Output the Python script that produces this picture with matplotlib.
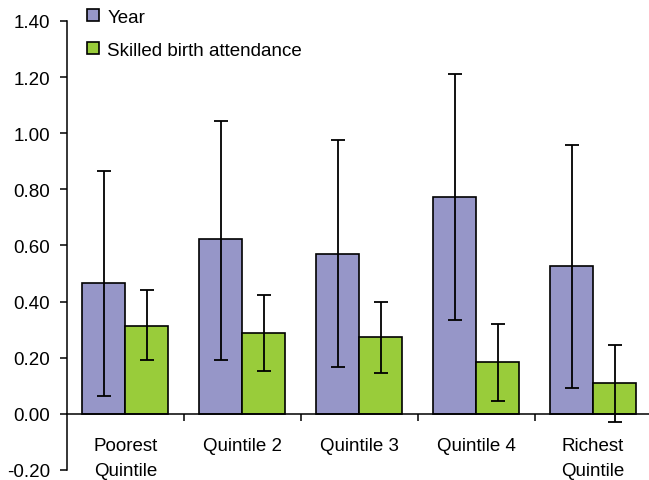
import numpy as np
import matplotlib
matplotlib.use("Agg")
import matplotlib.pyplot as plt

plt.rcParams['font.family'] = ['Liberation Sans', 'DejaVu Sans']

categories = ['Poorest\nQuintile', 'Quintile 2', 'Quintile 3', 'Quintile 4', 'Richest\nQuintile']
year_vals = [0.467, 0.623, 0.570, 0.773, 0.527]
year_lo = [0.064, 0.192, 0.167, 0.335, 0.093]
year_hi = [0.866, 1.044, 0.976, 1.211, 0.958]
sba_vals = [0.313, 0.289, 0.274, 0.185, 0.110]
sba_lo = [0.192, 0.153, 0.146, 0.046, -0.028]
sba_hi = [0.442, 0.424, 0.399, 0.321, 0.246]

year_color = '#9696C8'
sba_color = '#99CC3A'

fig = plt.figure(figsize=(6.49, 4.81), dpi=100)
ax = fig.add_axes([0.103, 0.021, 0.901, 0.9335])

x = np.arange(len(categories))
w = 0.367
yerr_year = [np.array(year_vals) - np.array(year_lo), np.array(year_hi) - np.array(year_vals)]
yerr_sba = [np.array(sba_vals) - np.array(sba_lo), np.array(sba_hi) - np.array(sba_vals)]

ax.bar(x - w / 2, year_vals, w, color=year_color, edgecolor='black', linewidth=1.2,
       label='Year', zorder=2)
ax.bar(x + w / 2, sba_vals, w, color=sba_color, edgecolor='black', linewidth=1.2,
       label='Skilled birth attendance', zorder=2)
ax.errorbar(x - w / 2, year_vals, yerr=yerr_year, fmt='none', ecolor='black',
            elinewidth=1.3, capsize=4.7, capthick=1.3, zorder=3)
ax.errorbar(x + w / 2, sba_vals, yerr=yerr_sba, fmt='none', ecolor='black',
            elinewidth=1.3, capsize=4.7, capthick=1.3, zorder=3)

ax.set_xlim(-0.5, 4.5)
ax.set_ylim(-0.2, 1.4)
ax.set_yticks(np.arange(-0.2, 1.41, 0.2))
ax.set_yticklabels([f'{v:.2f}' for v in np.arange(-0.2, 1.41, 0.2)], fontsize=13.5)

# x axis line at zero, boundary ticks, labels at category centres
ax.spines['bottom'].set_position(('data', 0))
ax.spines['top'].set_visible(False)
ax.spines['right'].set_visible(False)
ax.spines['left'].set_linewidth(1.1)
ax.spines['bottom'].set_linewidth(1.1)
ax.set_xticks(np.arange(0.5, 4.5, 1.0))
ax.set_xticklabels([])
ax.set_xticks(x, minor=True)
ax.set_xticklabels(categories, minor=True, fontsize=13.5, linespacing=1.55)
ax.tick_params(axis='x', which='major', direction='out', length=5, width=1.1)
ax.tick_params(axis='x', which='minor', length=0, pad=17)
ax.tick_params(axis='y', direction='out', length=5, width=1.1, pad=7)

ax.legend(loc='upper left', bbox_to_anchor=(0.005, 1.065), frameon=False,
          fontsize=13.5, handlelength=0.65, handleheight=0.65, labelspacing=0.85,
          handletextpad=0.45)

fig.savefig('out.png', dpi=100)
